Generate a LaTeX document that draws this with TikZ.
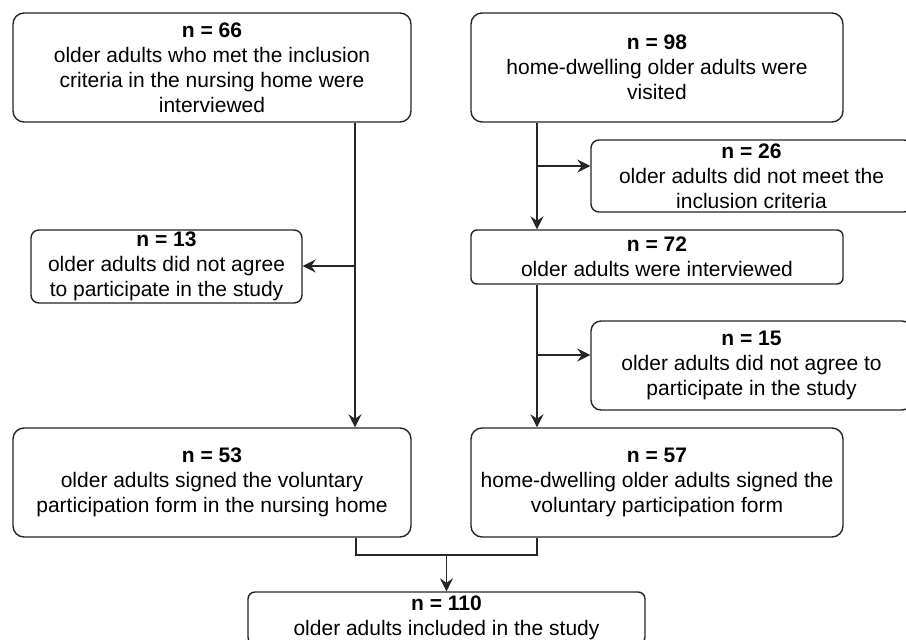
\documentclass[tikz,border=0pt]{standalone}
\usepackage{fontspec}
\setmainfont{Liberation Sans}
\usetikzlibrary{arrows.meta,calc}
\begin{document}
\begin{tikzpicture}[x=1pt,y=-1pt,
  box/.style={draw=black!85, line width=1.4pt, inner sep=0pt, align=center,
    font=\fontsize{21}{25}\selectfont, text=black},
  conn/.style={draw=black!85, line width=1.4pt},
  arr/.style={conn, -{Stealth[length=13pt,width=13pt,inset=4.5pt]}}]
\useasboundingbox (0,0) rectangle (906,640);
\clip (0,0) rectangle (906,640);
\fill[white] (0,0) rectangle (906,640);
% boxes
\node[box, minimum width=398pt, minimum height=109pt, rounded corners=11pt] (A) at (212,67.5)
  {\textbf{n = 66}\\older adults who met the inclusion\\criteria in the nursing home were\\interviewed};
\node[box, minimum width=372pt, minimum height=109pt, rounded corners=11pt] (B) at (657,67.5)
  {\textbf{n = 98}\\home-dwelling older adults were\\visited};
\node[box, minimum width=321pt, minimum height=72pt, rounded corners=8pt] (C) at (751.5,176)
  {\textbf{n = 26}\\older adults did not meet the\\inclusion criteria};
\node[box, minimum width=271pt, minimum height=73pt, rounded corners=8pt] (D) at (166.5,266.5)
  {\textbf{n = 13}\\older adults did not agree\\to participate in the study};
\node[box, minimum width=372pt, minimum height=54pt, rounded corners=6pt] (E) at (657,257)
  {\textbf{n = 72}\\older adults were interviewed};
\node[box, minimum width=321pt, minimum height=89pt, rounded corners=10pt] (F) at (751.5,365.5)
  {\textbf{n = 15}\\older adults did not agree to\\participate in the study};
\node[box, minimum width=398pt, minimum height=109pt, rounded corners=11pt] (G) at (212,482.5)
  {\textbf{n = 53}\\older adults signed the voluntary\\participation form in the nursing home};
\node[box, minimum width=372pt, minimum height=109pt, rounded corners=11pt] (H) at (657,482.5)
  {\textbf{n = 57}\\home-dwelling older adults signed the\\voluntary participation form};
\node[box, minimum width=397pt, minimum height=52pt, rounded corners=7pt] (I) at (446.5,618)
  {\textbf{n = 110}\\older adults included in the study};
% helper coordinates
\coordinate (la) at (355,266);
\coordinate (ra1) at (537,166);
\coordinate (ra2) at (537,355);
\coordinate (jl) at (356,555);
\coordinate (jr) at (537,555);
\coordinate (jm) at (446.5,555);
% connectors
\draw[arr] (A.south -| la) -- (G.north -| la);
\draw[arr] (la) -- (D.east |- la);
\draw[arr] (B.south -| ra1) -- (E.north -| ra1);
\draw[arr] (ra1) -- (C.west |- ra1);
\draw[arr] (E.south -| ra2) -- (H.north -| ra2);
\draw[arr] (ra2) -- (F.west |- ra2);
\draw[conn] (G.south -| jl) -- (jl) -- (jr) -- (H.south -| jr);
\draw[arr] (jm) -- (I.north -| jm);
\end{tikzpicture}
\end{document}
